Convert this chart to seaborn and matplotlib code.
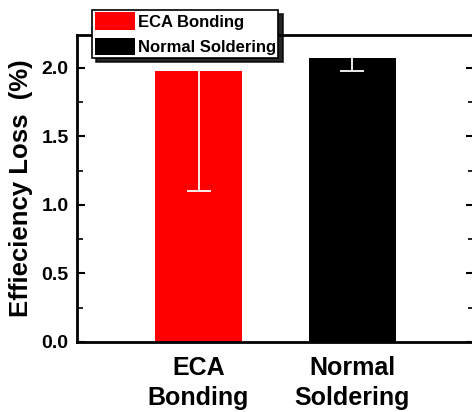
import matplotlib
matplotlib.use("Agg")
import matplotlib.pyplot as plt
import seaborn as sns
from matplotlib.patches import Patch
from matplotlib.ticker import MultipleLocator

categories = ["ECA\nBonding", "Normal\nSoldering"]
legend_labels = ["ECA Bonding", "Normal Soldering"]
values = [1.98, 2.07]
errors = [0.88, 0.09]
colors = ["#ff0000", "#000000"]
y_ticks = [0.0, 0.5, 1.0, 1.5, 2.0]

sns.set_style("ticks")
plt.rcParams["font.family"] = ["Liberation Sans", "DejaVu Sans"]
plt.rcParams["font.weight"] = "bold"
plt.rcParams["text.color"] = "black"
plt.rcParams["axes.labelcolor"] = "black"
plt.rcParams["xtick.color"] = "black"
plt.rcParams["ytick.color"] = "black"

fig = plt.figure(figsize=(4.72, 4.12), dpi=100)
W, H = 472, 412
left, right, top, bottom = 77, 474, 35, 342
ax = fig.add_axes([left / W, 1 - bottom / H, (right - left) / W, (bottom - top) / H])

sns.barplot(x=categories, y=values, hue=categories, palette=colors, width=0.565,
            ax=ax, legend=False, saturation=1, linewidth=0)
ax.errorbar(x=list(range(len(values))), y=values, yerr=errors, fmt="none",
            ecolor="white", elinewidth=1.3, capsize=8.5, capthick=1.3, zorder=5)

ax.set_xlim(-0.79, 1.79)
ax.set_ylim(0, 2.24)
ax.set_yticks(y_ticks)
ax.set_yticklabels([f"{t:.1f}" for t in y_ticks], fontsize=14, fontweight="bold")
ax.yaxis.set_minor_locator(MultipleLocator(0.25))
ax.tick_params(axis="x", length=0, labelsize=18, pad=10, labelcolor="black")
for lab in ax.get_xticklabels():
    lab.set_fontweight("bold")
    lab.set_linespacing(1.3)
ax.tick_params(axis="y", which="major", direction="in", length=6, width=1.5,
               right=True, pad=6, color="black", labelcolor="black")
ax.tick_params(axis="y", which="minor", direction="in", length=4, width=1.2,
               right=True, color="black")
ax.set_ylabel("Effieciency Loss  (%)", fontsize=18.5, fontweight="bold", labelpad=6,
              color="black")
ax.set_xlabel("")
for s in ax.spines.values():
    s.set_visible(True)
    s.set_linewidth(2)
    s.set_color("black")

handles = [Patch(facecolor=c, edgecolor="none") for c in colors]
leg = fig.legend(handles, legend_labels, loc="upper left",
                 bbox_to_anchor=(92 / W, 1 - 10 / H), frameon=True, fancybox=False,
                 shadow={"color": "black", "alpha": 0.85, "ox": 3, "oy": -3},
                 prop={"weight": "bold", "size": 12},
                 handlelength=2.4, handleheight=1.2, handletextpad=0.2,
                 labelspacing=0.5, borderpad=0.15, borderaxespad=0,
                 labelcolor="black")
leg.get_frame().set_edgecolor("black")
leg.get_frame().set_linewidth(1.2)
leg.set_zorder(10)

fig.savefig("out.png", dpi=100)
